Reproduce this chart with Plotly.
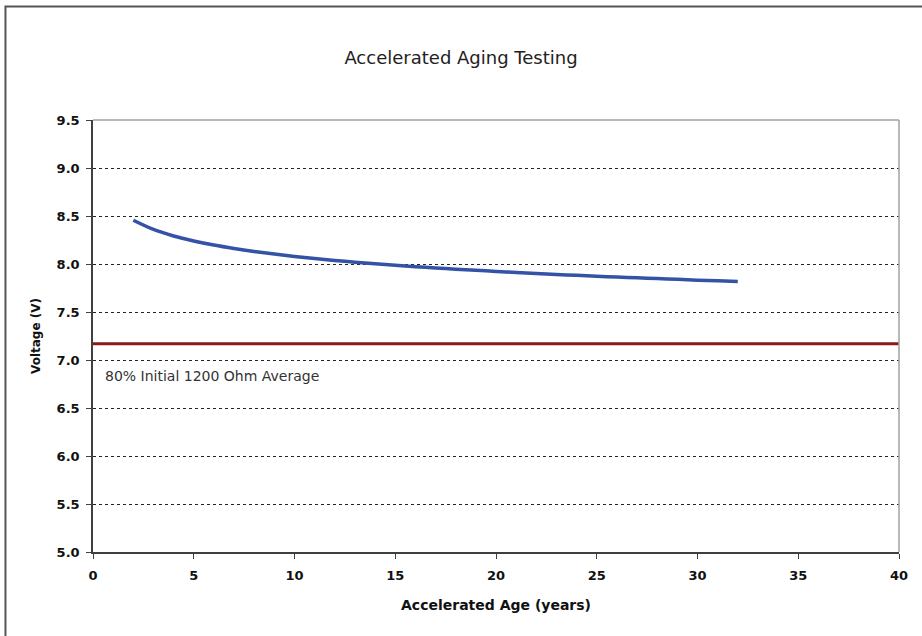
import plotly.graph_objects as go

# Data
age_years = [2, 3, 4, 5, 6, 7, 8, 9, 10, 11, 12, 13, 14, 15, 16, 17,
             18, 19, 20, 21, 22, 23, 24, 25, 26, 27, 28, 29, 30, 31, 32]
voltage = [8.456, 8.360, 8.292, 8.240, 8.197, 8.161, 8.130, 8.103, 8.079,
           8.057, 8.037, 8.019, 8.002, 7.987, 7.972, 7.959, 7.946, 7.934,
           7.923, 7.912, 7.901, 7.891, 7.882, 7.873, 7.864, 7.856, 7.848,
           7.840, 7.832, 7.825, 7.818]
threshold_x = [0, 40]
threshold_v = [7.17, 7.17]
threshold_label = "80% Initial 1200 Ohm Average"

x_ticks = [0, 5, 10, 15, 20, 25, 30, 35, 40]
y_ticks = [5.0, 5.5, 6.0, 6.5, 7.0, 7.5, 8.0, 8.5, 9.0, 9.5]

FONT = "DejaVu Sans, Arial, sans-serif"

fig = go.Figure()
fig.add_trace(go.Scatter(x=threshold_x, y=threshold_v, mode="lines",
                         line=dict(color="#8B1A1A", width=3),
                         showlegend=False, hoverinfo="skip"))
fig.add_trace(go.Scatter(x=age_years, y=voltage, mode="lines",
                         line=dict(color="#3453A6", width=3.5, shape="spline",
                                   smoothing=0.8),
                         showlegend=False))

fig.add_annotation(x=0.5, y=6.83, xref="x", yref="y", text=threshold_label,
                   showarrow=False, xanchor="left", yanchor="middle",
                   font=dict(family=FONT, size=14, color="#333333"))

# outer frame of the whole chart
fig.add_shape(type="rect", xref="paper", yref="paper",
              x0=-0.1086, x1=1.05, y0=-0.3, y1=1.2627,
              line=dict(color="#555555", width=2), layer="below")
# top and right plot-area borders (light gray)
fig.add_shape(type="line", xref="paper", yref="paper", x0=0, x1=1, y0=1, y1=1,
              line=dict(color="#A0A0A0", width=1.5))
fig.add_shape(type="line", xref="paper", yref="paper", x0=1, x1=1, y0=0, y1=1,
              line=dict(color="#A0A0A0", width=1.5))

fig.update_layout(
    width=922, height=636,
    margin=dict(l=93, r=23, t=120, b=84),
    paper_bgcolor="white", plot_bgcolor="white",
    title=dict(text="Accelerated Aging Testing", x=0.5, xanchor="center",
               y=1 - 58 / 636, yanchor="middle",
               font=dict(family=FONT, size=18, color="#222222")),
    font=dict(family=FONT),
)
fig.update_xaxes(range=[0, 40], tickvals=x_ticks, showgrid=False, zeroline=False,
                 showline=True, linecolor="#404040", linewidth=1.5,
                 ticks="outside", ticklen=5, tickcolor="#404040",
                 ticklabelstandoff=6,
                 tickfont=dict(family=FONT, size=13, color="#111111", weight="bold"),
                 title=dict(text="<b>Accelerated Age (years)</b>", standoff=18,
                            font=dict(family=FONT, size=14, color="#111111")))
fig.update_yaxes(range=[5.0, 9.5], tickvals=y_ticks, tickformat=".1f",
                 showgrid=True, gridcolor="#222222", griddash="3px,3px", gridwidth=1,
                 zeroline=False,
                 showline=True, linecolor="#404040", linewidth=1.5,
                 ticks="outside", ticklen=5, tickcolor="#404040",
                 ticklabelstandoff=4,
                 tickfont=dict(family=FONT, size=13, color="#111111", weight="bold"),
                 title=dict(text="<b>Voltage (V)</b>", standoff=13,
                            font=dict(family=FONT, size=12, color="#111111")))

fig.write_html("out.html", config={"displayModeBar": False},
               post_script="document.body.style.margin='0px';")
